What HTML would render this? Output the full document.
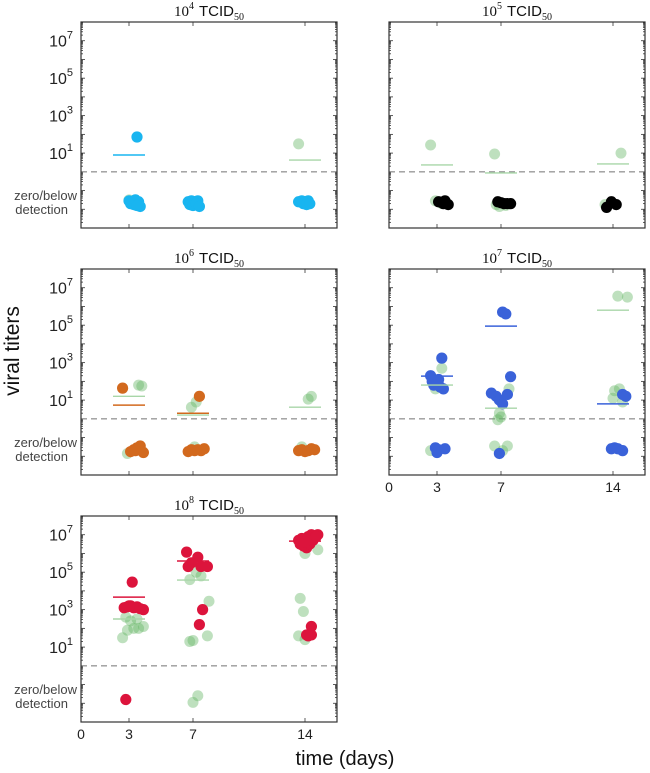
<!DOCTYPE html>
<html><head><meta charset="utf-8"><style>
html,body{margin:0;padding:0;background:#fff;}
svg{display:block;font-family:"Liberation Sans",sans-serif;}
</style></head><body>
<svg id="chart" width="650" height="773" viewBox="0 0 650 773" xmlns="http://www.w3.org/2000/svg">
<text x="19" y="351" font-size="21" fill="#111" text-anchor="middle" transform="rotate(-90 19 351)">viral titers</text>
<text x="345" y="765" font-size="20" fill="#111" text-anchor="middle">time (days)</text>
</svg>
<script>
// x tick values and y tick exponents
const xTicks = [0, 3, 7, 14];
const yLabelExps = [1, 3, 5, 7];
const doses = ["4", "5", "6", "7", "8"];
// Panel 1 (10^4): x = day with jitter, y = log10 titer
const p1MainX = [3.5, 3.0,3.2,3.4,3.6,3.3,3.1,3.7,3.5, 6.7,6.9,7.1,7.3,6.8,7.0,7.2,7.4, 13.6,13.8,14.0,14.2,13.9,14.1,14.3];
const p1MainY = [1.86, -1.55,-1.6,-1.5,-1.6,-1.75,-1.7,-1.85,-1.8, -1.6,-1.55,-1.6,-1.55,-1.75,-1.8,-1.7,-1.85, -1.6,-1.55,-1.6,-1.55,-1.7,-1.75,-1.7];
const p1CtrlX = [13.6, 3.0, 14.2];
const p1CtrlY = [1.49, -1.5, -1.55];
const p1MainMean = [0.9, null, null];
const p1CtrlMean = [null, null, 0.63];
// Panel 2 (10^5)
const p2MainX = [3.1,3.3,3.5,3.7,3.4, 6.8,7.0,7.2,7.4,7.6, 13.6,13.9,14.2];
const p2MainY = [-1.6,-1.65,-1.55,-1.75,-1.7, -1.6,-1.65,-1.7,-1.7,-1.7, -1.9,-1.6,-1.75];
const p2CtrlX = [2.6, 6.6, 14.5, 2.9, 3.3, 6.7, 6.9, 7.3, 13.5];
const p2CtrlY = [1.43, 0.95, 1.0, -1.55, -1.7, -1.75, -1.85, -1.8, -1.75];
const p2MainMean = [null, null, null];
const p2CtrlMean = [0.37, -0.06, 0.42];
// Panel 3 (10^6)
const p3MainX = [2.6, 7.4, 3.1,3.3,3.5,3.7,3.9,3.4, 6.7,6.9,7.1,7.3,7.5,7.7, 13.6,13.8,14.0,14.2,14.4,14.6];
const p3MainY = [1.64, 1.2, -1.75,-1.65,-1.55,-1.45,-1.8,-1.7, -1.75,-1.65,-1.7,-1.65,-1.7,-1.6, -1.7,-1.65,-1.75,-1.7,-1.6,-1.65];
const p3CtrlX = [3.6, 3.8, 6.9, 7.2, 14.2, 14.4, 2.9, 13.8, 7.1];
const p3CtrlY = [1.8, 1.75, 0.62, 0.9, 1.05, 1.2, -1.85, -1.5, -1.5];
const p3MainMean = [0.73, 0.3, null];
const p3CtrlMean = [1.2, 0.2, 0.62];
// Panel 4 (10^7)
const p4MainX = [3.3, 2.6, 2.7, 2.8, 3.0, 3.2, 3.4, 3.1, 7.1, 7.3, 7.6, 6.4, 6.7, 6.9, 7.1, 7.4, 14.6, 14.8, 2.9,3.1,3.0,3.5, 6.9, 13.9,14.1,14.3,14.6];
const p4MainY = [3.24, 2.3, 2.0, 1.8, 1.9, 1.7, 1.6, 2.1, 5.7, 5.6, 2.25, 1.37, 1.2, 1.0, 0.8, 1.3, 1.3, 1.2, -1.55,-1.65,-1.8,-1.6, -1.85, -1.6,-1.55,-1.6,-1.7];
const p4CtrlX = [3.3, 2.9, 7.5, 6.9, 7.0, 6.8, 14.3, 14.9, 14.1, 14.4, 14.0, 14.6, 2.6, 6.6, 7.1, 7.4];
const p4CtrlY = [2.7, 1.6, 1.6, 0.3, 0.1, -0.05, 6.55, 6.5, 1.5, 1.6, 1.1, 0.9, -1.7, -1.45, -1.7, -1.45];
const p4MainMean = [2.28, 4.95, 0.8];
const p4CtrlMean = [1.8, 0.57, 5.8];
// Panel 5 (10^8)
const p5MainX = [3.2, 2.7,2.9,3.1,3.3,3.5,3.7,3.9,3.0, 2.8, 6.6,7.3,6.9,7.5,6.7,7.9, 7.6,7.4, 13.6,13.8,14.0,14.2,14.4,14.6,14.8,13.9,14.1,14.3,14.5,14.7,13.7,14.0, 14.4,14.1,14.4,14.2];
const p5MainY = [4.47, 3.1,3.15,3.2,3.1,3.15,3.05,3.0,3.2, -1.8, 6.07,5.8,5.5,5.3,5.3,5.3, 3.0,2.2, 6.7,6.8,6.6,6.9,7.0,6.85,7.0,6.4,6.3,6.5,6.7,6.9,6.5,6.6, 2.1,1.65,1.65,1.6];
const p5CtrlX = [2.6,2.9,3.3,3.6,3.9,3.1,2.8,3.5, 7.2,6.8,7.5, 8.0,7.9,6.8,7.0, 7.3,7.0, 14.0,14.8,13.7,13.9,13.6,14.0];
const p5CtrlY = [1.5,1.9,2.0,2.0,2.1,2.4,2.6,2.5, 5.0,4.6,4.8, 3.45,1.6,1.3,1.35, -1.6,-1.95, 6.0,6.2,3.6,2.9,1.6,1.4];
const p5MainMean = [3.67, 5.6, 6.66];
const p5CtrlMean = [2.5, 4.58, null];

const panels = [
 {left:81,top:22,mx:p1MainX,my:p1MainY,cx:p1CtrlX,cy:p1CtrlY,mm:p1MainMean,cm:p1CtrlMean,color:"#19b5f0",yl:true,xl:false},
 {left:389,top:22,mx:p2MainX,my:p2MainY,cx:p2CtrlX,cy:p2CtrlY,mm:p2MainMean,cm:p2CtrlMean,color:"#000000",yl:false,xl:false},
 {left:81,top:269,mx:p3MainX,my:p3MainY,cx:p3CtrlX,cy:p3CtrlY,mm:p3MainMean,cm:p3CtrlMean,color:"#d2691e",yl:true,xl:false},
 {left:389,top:269,mx:p4MainX,my:p4MainY,cx:p4CtrlX,cy:p4CtrlY,mm:p4MainMean,cm:p4CtrlMean,color:"#3a62d9",yl:false,xl:true},
 {left:81,top:516,mx:p5MainX,my:p5MainY,cx:p5CtrlX,cy:p5CtrlY,mm:p5MainMean,cm:p5CtrlMean,color:"#dc143c",yl:true,xl:true}
];
const W = 256, H = 206, X0 = 0, X1 = 16, Y0 = -3, Y1 = 8;
const NS = "http://www.w3.org/2000/svg";
const svg = document.getElementById("chart");
function mk(tag, attrs, parent) {
  const e = document.createElementNS(NS, tag);
  for (const k in attrs) e.setAttribute(k, attrs[k]);
  parent.appendChild(e);
  return e;
}
panels.forEach((p, i) => {
  const xs = d => p.left + (d - X0) / (X1 - X0) * W;
  const ys = v => p.top + (Y1 - v) / (Y1 - Y0) * H;
  const g = mk("g", {}, svg);
  
  
  const t = mk("text", {x: p.left + W / 2, y: p.top - 6, "text-anchor": "middle", "font-size": "15", fill: "#111"}, g);
  
  
  t.innerHTML = '<tspan font-family="Liberation Serif, serif">10</tspan><tspan font-family="Liberation Serif, serif" font-size="10" dy="-7">' + doses[i] + '</tspan><tspan dy="7" dx="5">TCID</tspan><tspan font-family="Liberation Serif, serif" font-size="10" dy="4">50</tspan>';
  for (let e = Y0; e < Y1; e++) {
    for (let m = 1; m < 10; m++) {
      const v = e + Math.log10(m);
      const y = ys(v);
      const len = m === 1 ? 4 : 2;
      mk("line", {x1: p.left, x2: p.left + len, y1: y, y2: y, stroke: "#333", "stroke-width": 0.8}, g);
      mk("line", {x1: p.left + W, x2: p.left + W - len, y1: y, y2: y, stroke: "#333", "stroke-width": 0.8}, g);
    }
  }
  if (p.yl) {
    yLabelExps.forEach(e => {
      const lt = mk("text", {x: p.left - 8, y: ys(e) + 6, "text-anchor": "end", "font-size": "16", fill: "#222"}, g);
      
      
      lt.innerHTML = '10<tspan font-size="11" dy="-8">' + e + '</tspan>';
    });
    const z1 = mk("text", {x: p.left - 4, y: ys(-1.55) - 1, "text-anchor": "end", "font-size": "13", fill: "#444"}, g);
    z1.textContent = "zero/below";
    
    
    const z2 = mk("text", {x: p.left - 13, y: ys(-1.55) + 13, "text-anchor": "end", "font-size": "13", fill: "#444"}, g);
    z2.textContent = "detection";
    
    
  }
  xTicks.forEach(d => {
    mk("line", {x1: xs(d), x2: xs(d), y1: p.top + H, y2: p.top + H - 4, stroke: "#333", "stroke-width": 0.8}, g);
    mk("line", {x1: xs(d), x2: xs(d), y1: p.top, y2: p.top + 4, stroke: "#333", "stroke-width": 0.8}, g);
    if (p.xl) {
      const xt = mk("text", {x: xs(d), y: p.top + H + 17, "text-anchor": "middle", "font-size": "14", fill: "#222"}, g);
      xt.textContent = d;
      
      
    }
  });
  const dl = mk("line", {x1: p.left, x2: p.left + W, y1: ys(0), y2: ys(0), stroke: "#999", "stroke-width": 1.3, "stroke-dasharray": "6,4"}, g);
  
  
  p.cx.forEach((d, k) => {
    const c = mk("circle", {cx: xs(d), cy: ys(p.cy[k]), r: 5.5, fill: "rgba(100,180,100,0.42)"}, g);
    
    
  });
  p.mx.forEach((d, k) => {
    const c = mk("circle", {cx: xs(d), cy: ys(p.my[k]), r: 5.6, fill: p.color}, g);
    
    
  });
  xTicks.slice(1).forEach((d, k) => {
    if (p.cm[k] !== null) {
      const l = mk("line", {x1: xs(d - 1), x2: xs(d + 1), y1: ys(p.cm[k]), y2: ys(p.cm[k]), stroke: "#a8d6a8", "stroke-width": 1.4}, g);
      
      
    }
    if (p.mm[k] !== null) {
      const l = mk("line", {x1: xs(d - 1), x2: xs(d + 1), y1: ys(p.mm[k]), y2: ys(p.mm[k]), stroke: p.color, "stroke-width": 1.5}, g);
      
      
    }
  });
  const fr = mk("rect", {x: p.left, y: p.top, width: W, height: H, fill: "none", stroke: "#333", "stroke-width": 1.2}, g);
  
  
});
</script>
</body></html>
